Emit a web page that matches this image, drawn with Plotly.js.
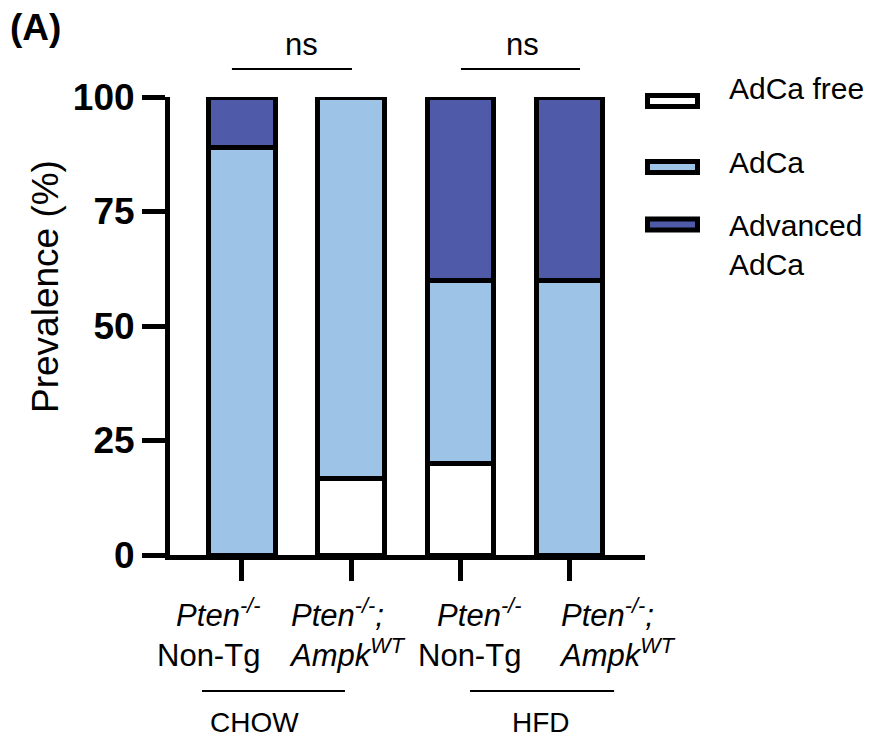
<!DOCTYPE html>
<html>
<head>
<meta charset="utf-8">
<script src="https://cdn.plot.ly/plotly-3.0.1.min.js"></script>
<style>html,body{margin:0;padding:0;background:#fff;}#chart{width:874px;height:737px;}</style>
</head>
<body>
<div id="chart"></div>
<script>
// ---- data ----
var xPos = [0, 1, 2, 3];
var categoryLabels = [
  '<i>Pten<sup>-/-</sup></i><br>Non-Tg',
  '<i>Pten<sup>-/-</sup>;</i><br><i>Ampk<sup>WT</sup></i>',
  '<i>Pten<sup>-/-</sup></i><br>Non-Tg',
  '<i>Pten<sup>-/-</sup>;</i><br><i>Ampk<sup>WT</sup></i>'
];
var groupLabels = ['CHOW', 'HFD'];
var seriesNames = ['AdCa free', 'AdCa', 'Advanced<br>AdCa'];
var adcaFree = [0, 16.7, 20, 0];
var adca = [88.9, 83.3, 40, 60];
var advancedAdca = [11.1, 0, 40, 40];
var yTicks = [0, 25, 50, 75, 100];
var sigLabels = ['ns', 'ns'];

var colors = ['#FFFFFF', '#9DC3E6', '#4F5BA8'];
var seriesValues = [adcaFree, adca, advancedAdca];
var FONT = '"Liberation Sans", Arial, Helvetica, sans-serif';

var traces = seriesValues.map(function (vals, i) {
  return {
    type: 'bar', x: xPos, y: vals, name: seriesNames[i],
    width: 0.61, textposition: 'none',
    marker: { color: colors[i], line: { color: '#000', width: 5 } },
    showlegend: false, hoverinfo: 'skip'
  };
});

// paper helpers (plot area: x 170..645 px, y 97..555 px)
function px(x) { return (x - 170) / 475; }
function py(y) { return (555 - y) / 458; }

var shapes = [];
var annotations = [];

// group underlines + labels
var grpLines = [[-0.366, 0.943], [2.088, 3.407]];
var grpText = [0.119, 2.738];
grpLines.forEach(function (g, i) {
  shapes.push({ type: 'line', xref: 'x', yref: 'paper', x0: g[0], x1: g[1], y0: py(691), y1: py(691), line: { color: '#000', width: 2 } });
  annotations.push({ xref: 'x', yref: 'paper', x: grpText[i], y: py(722), text: groupLabels[i], showarrow: false, xanchor: 'center', yanchor: 'middle', font: { family: FONT, size: 28, color: '#000' } });
});

// significance
var sigLines = [[-0.092, 1.007], [2.005, 3.095]];
var sigText = [0.549, 2.564];
sigLines.forEach(function (g, i) {
  shapes.push({ type: 'line', xref: 'x', yref: 'paper', x0: g[0], x1: g[1], y0: py(69), y1: py(69), line: { color: '#000', width: 2 } });
  annotations.push({ xref: 'x', yref: 'paper', x: sigText[i], y: py(45), text: sigLabels[i], showarrow: false, xanchor: 'center', yanchor: 'middle', font: { family: FONT, size: 31, color: '#000' } });
});

// category labels
var labX = [0.18, 0.414, 2.57, 2.88];
var labAnchor = ['right', 'left', 'right', 'left'];
categoryLabels.forEach(function (t, i) {
  annotations.push({ xref: 'x', yref: 'paper', x: labX[i], y: py(633), text: t, showarrow: false, xanchor: labAnchor[i], align: labAnchor[i], yanchor: 'middle', font: { family: FONT, size: 31, color: '#000' } });
});

// y title
annotations.push({ xref: 'paper', yref: 'paper', x: px(45), y: py(287), text: 'Prevalence (%)', textangle: -90, showarrow: false, xanchor: 'center', yanchor: 'middle', font: { family: FONT, size: 37, color: '#000' } });

// panel label
annotations.push({ xref: 'paper', yref: 'paper', x: px(8), y: py(28), text: '<b>(A)</b>', showarrow: false, xanchor: 'left', yanchor: 'middle', font: { family: FONT, size: 37, color: '#000' } });

// legend (custom, wide swatches)
var legSwatchY = [101, 167, 224.5];
var legTextY = [88, 162, 245];
seriesNames.forEach(function (n, i) {
  shapes.push({ type: 'rect', xref: 'paper', yref: 'paper', x0: px(647.5), x1: px(697.5), y0: py(legSwatchY[i] + 5.5), y1: py(legSwatchY[i] - 5.5), fillcolor: colors[i], line: { color: '#000', width: 5 } });
  annotations.push({ xref: 'paper', yref: 'paper', x: px(727), y: py(legTextY[i]), text: n, showarrow: false, xanchor: 'left', yanchor: 'middle', align: 'left', font: { family: FONT, size: 30, color: '#000' } });
});

var layout = {
  width: 874, height: 737,
  margin: { l: 170, r: 229, t: 97, b: 182, pad: 0 },
  paper_bgcolor: '#fff', plot_bgcolor: '#fff',
  barmode: 'stack',
  font: { family: FONT, color: '#000' },
  xaxis: {
    range: [-0.659, 3.69], tickvals: xPos, showticklabels: false,
    showline: true, linewidth: 5, linecolor: '#000',
    ticks: 'outside', ticklen: 21, tickwidth: 5, tickcolor: '#000',
    showgrid: false, zeroline: false, fixedrange: true
  },
  yaxis: {
    range: [0, 100], tickvals: yTicks, ticktext: yTicks.map(String),
    showline: true, linewidth: 5, linecolor: '#000',
    ticks: 'outside', ticklen: 23, tickwidth: 5, tickcolor: '#000',
    tickfont: { family: FONT, size: 37, weight: 'bold', color: '#000' },
    showgrid: false, zeroline: false, fixedrange: true
  },
  shapes: shapes,
  annotations: annotations
};

Plotly.newPlot('chart', traces, layout, { staticPlot: true, displayModeBar: false });
</script>
</body>
</html>
